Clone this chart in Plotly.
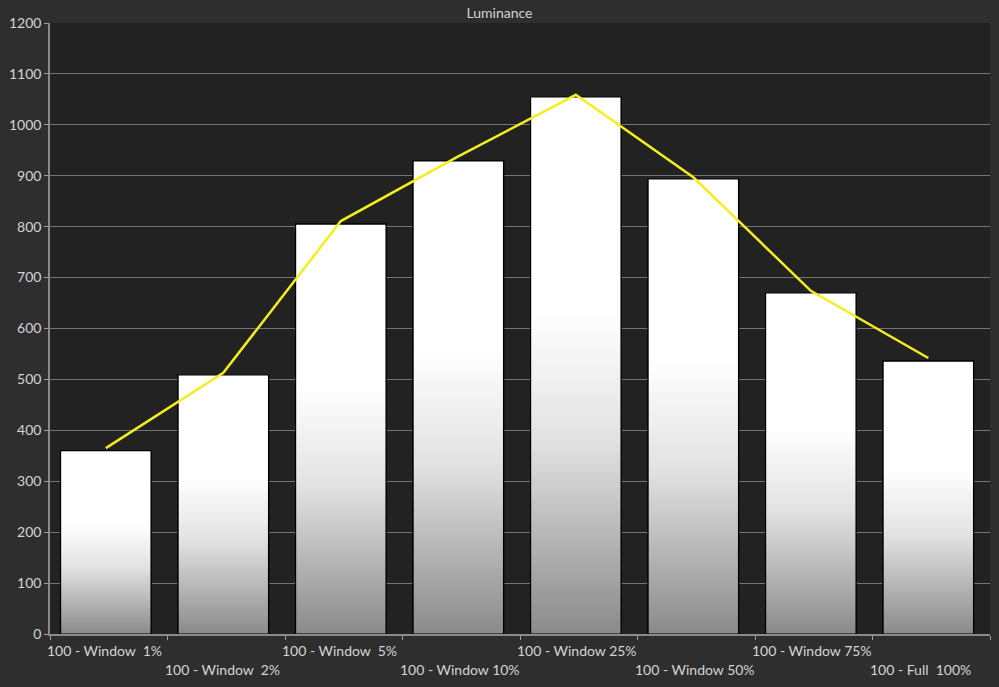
import plotly.graph_objects as go

categories = ["100 - Window\u00a0 1%", "100 - Window\u00a0 2%", "100 - Window\u00a0 5%",
              "100 - Window 10%", "100 - Window 25%", "100 - Window 50%",
              "100 - Window 75%", "100 - Full\u00a0 100%"]
bar_values = [360, 509, 805, 929, 1055, 894, 670, 536]
line_values = [365, 513, 811, 938, 1059, 897, 674, 542]
y_ticks = list(range(0, 1201, 100))

BAR_W = 0.77
centers = [i + 0.475 for i in range(len(categories))]

fig = go.Figure()

fig.add_trace(go.Bar(x=centers, y=bar_values, width=BAR_W,
                     marker=dict(color="white", line=dict(color="black", width=1.2)),
                     hoverinfo="skip", showlegend=False))

# gradient overlay for each bar
for c, v in zip(centers, bar_values):
    x0, x1 = c - BAR_W / 2, c + BAR_W / 2
    fig.add_trace(go.Scatter(
        x=[x0, x1, x1, x0, x0], y=[0, 0, v, v, 0],
        mode="lines", fill="toself",
        line=dict(color="black", width=1.2),
        fillgradient=dict(type="vertical",
                          colorscale=[[0, "#8a8a8a"], [0.6, "#e2e2e2"], [1, "#ffffff"]],
                          start=0, stop=v * 0.6),
        hoverinfo="skip", showlegend=False))

fig.add_trace(go.Scatter(x=centers, y=line_values,
                         mode="lines", line=dict(color="#f2ee22", width=2.5),
                         showlegend=False))

annotations = []
for i, lab in enumerate(categories):
    annotations.append(dict(x=i, y=0, xref="x", yref="paper", text=lab,
                            showarrow=False, xanchor="left", yanchor="top",
                            xshift=-5, yshift=-6 if i % 2 == 0 else -25,
                            font=dict(family="Lato", size=14, color="#d4d4d4")))

fig.update_layout(
    width=999, height=687,
    margin=dict(l=45, r=9, t=23, b=53),
    paper_bgcolor="#2e2e2e", plot_bgcolor="#222222",
    title=dict(text="Luminance", x=0.5, xanchor="center", y=0.981, yanchor="middle",
               font=dict(family="Lato", size=14, color="#d4d4d4")),
    xaxis=dict(range=[0, len(categories)], tickvals=list(range(len(categories) + 1)),
               showticklabels=False, ticks="outside", ticklen=4, tickcolor="#a0a0a0",
               showgrid=False, zeroline=False, showline=True, linecolor="#8a8a8a",
               linewidth=1.5),
    yaxis=dict(range=[0, 1200], tickvals=y_ticks, ticks="outside", ticklen=4,
               tickcolor="#a0a0a0", showgrid=True, gridcolor="#747474", gridwidth=1,
               zeroline=False, showline=True, linecolor="#8a8a8a", linewidth=1.5,
               tickfont=dict(family="Lato", size=14, color="#d4d4d4")),
    annotations=annotations,
    barmode="overlay",
)

fig.write_html("out.html")
